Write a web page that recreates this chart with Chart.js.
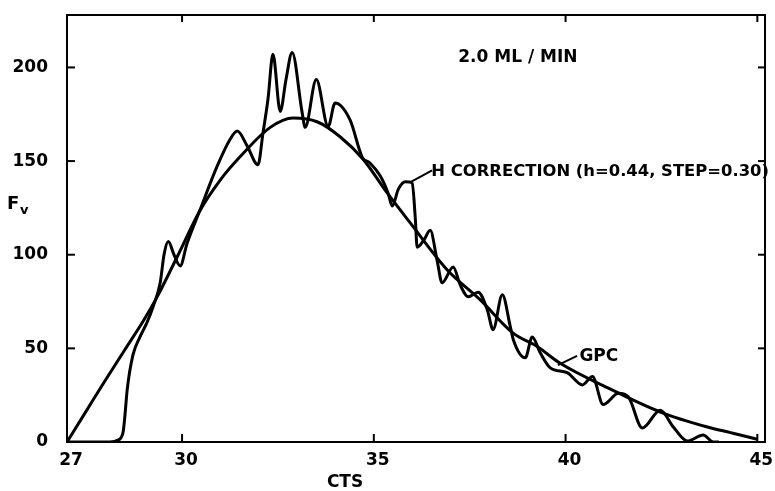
<!DOCTYPE html>
<html>
<head>
<meta charset="utf-8">
<script src="https://cdn.jsdelivr.net/npm/chart.js@4.4.1/dist/chart.umd.min.js"></script>
<style>
  html, body { margin: 0; padding: 0; background: #fff; }
  #wrap { width: 775px; height: 491px; position: relative; }
</style>
</head>
<body>
<div id="wrap"><canvas id="myChart"></canvas></div>
<script>
// axis ticks
const xTicks = [27, 30, 35, 40, 45];
const yTicks = [0, 50, 100, 150, 200];

// GPC curve (smooth)
const gpcX = [27, 27.5, 28, 28.5, 29, 29.35, 29.9, 30.45, 31.0, 31.5, 32.3, 32.9, 33.52, 34.12, 34.72, 35.35, 35.95, 36.91, 37.77, 38.64, 39.26, 39.86, 41.09, 42.47, 43.7, 44.3, 45.0];
const gpcY = [0, 16.5, 33, 49, 65, 77.5, 100, 123, 140, 152, 168, 173, 171, 163, 151, 133, 117, 92, 76, 58, 51, 42, 29, 16, 8, 5, 1.5];

// H correction curve (h=0.44, step=0.30)
const hcX = [27, 28.12, 28.33, 28.46, 28.51, 28.57, 28.72, 28.9, 29.09, 29.24, 29.43, 29.53, 29.64, 29.79, 29.95, 30.13, 30.47, 30.91, 31.25, 31.44, 31.7, 31.98, 32.11, 32.24, 32.37, 32.56, 32.71, 32.87, 33.13, 33.21, 33.5, 33.81, 33.99, 34.38, 34.7, 34.9, 35.17, 35.37, 35.48, 35.64, 35.82, 36.0, 36.08, 36.13, 36.31, 36.47, 36.65, 36.78, 37.07, 37.25, 37.46, 37.72, 37.96, 38.11, 38.35, 38.56, 38.64, 38.95, 39.13, 39.34, 39.6, 40.04, 40.44, 40.7, 40.98, 41.38, 41.64, 42.0, 42.47, 42.81, 43.18, 43.59, 43.85, 44.0];
const hcY = [0, 0, 1, 5, 14, 28, 46.5, 56, 64, 72, 85, 100, 107, 100, 94, 106, 124, 147, 161.5, 166, 158, 148, 165, 183, 207, 176.5, 193.5, 208, 176, 168, 193.5, 168.5, 181, 172, 152, 149, 142, 133, 126, 135, 139, 138.5, 120, 104, 108, 113, 97, 85, 93.5, 84, 77.5, 80, 70.5, 60, 78.6, 61.5, 54.5, 45, 56, 47.6, 39.6, 37, 30.5, 35, 20, 26, 24, 7.5, 17, 8, 0.5, 3.7, 0, 0];

const FONT = '"DejaVu Sans", sans-serif';

function toPoints(xs, ys) {
    return xs.map((v, i) => ({ x: v, y: ys[i] }));
}

// frame, inward ticks and labels written on the plot
const decor = {
    id: 'decor',
    afterDraw(chart) {
        const ctx = chart.ctx;
        const a = chart.chartArea;
        const x = chart.scales.x, y = chart.scales.y;
        const line = (x1, y1, x2, y2) => {
            ctx.beginPath(); ctx.moveTo(x1, y1); ctx.lineTo(x2, y2); ctx.stroke();
        };
        ctx.save();
        ctx.strokeStyle = '#000';
        ctx.lineWidth = 2;
        ctx.strokeRect(a.left, a.top, a.right - a.left, a.bottom - a.top);

        xTicks.slice(1).forEach(v => {
            const px = x.getPixelForValue(v);
            line(px, a.bottom, px, a.bottom - 8);
            line(px, a.top, px, a.top + 7);
        });
        yTicks.slice(1).forEach(v => {
            const py = y.getPixelForValue(v);
            line(a.left, py, a.left + 8, py);
            line(a.right, py, a.right - 7, py);
        });

        // leader lines
        line(x.getPixelForValue(35.98), y.getPixelForValue(139), x.getPixelForValue(36.52), y.getPixelForValue(145));
        line(x.getPixelForValue(39.8), y.getPixelForValue(41), x.getPixelForValue(40.3), y.getPixelForValue(46));

        ctx.fillStyle = '#000';
        ctx.textBaseline = 'middle';
        ctx.textAlign = 'left';
        ctx.font = 'bold 17px ' + FONT;
        ctx.fillText('2.0 ML / MIN', x.getPixelForValue(37.2), y.getPixelForValue(205));
        ctx.font = 'bold 16.4px ' + FONT;
        ctx.fillText('H CORRECTION (h=0.44, STEP=0.30)', x.getPixelForValue(36.5), y.getPixelForValue(144.5));
        ctx.font = 'bold 17px ' + FONT;
        ctx.fillText('GPC', x.getPixelForValue(40.36), y.getPixelForValue(45.5));

        // axis titles
        ctx.textAlign = 'center';
        ctx.fillText('CTS', x.getPixelForValue(34.25), a.bottom + 41);
        ctx.textAlign = 'left';
        ctx.font = 'bold 18px ' + FONT;
        const fy = y.getPixelForValue(127);
        ctx.fillText('F', 7, fy);
        ctx.font = 'bold 13px ' + FONT;
        ctx.fillText('v', 20, fy + 6);
        ctx.restore();
    }
};

const myChart = new Chart(document.getElementById('myChart'), {
    type: 'line',
    data: {
        datasets: [{
            label: 'GPC',
            data: toPoints(gpcX, gpcY),
            borderColor: '#000',
            borderWidth: 3,
            pointRadius: 0,
            cubicInterpolationMode: 'monotone',
            fill: false
        }, {
            label: 'H CORRECTION',
            data: toPoints(hcX, hcY),
            borderColor: '#000',
            borderWidth: 3,
            pointRadius: 0,
            cubicInterpolationMode: 'monotone',
            fill: false
        }]
    },
    options: {
        responsive: true,
        maintainAspectRatio: false,
        animation: false,
        layout: { padding: { left: 0, right: 10, top: 15, bottom: 0 } },
        plugins: {
            legend: { display: false },
            tooltip: { enabled: false }
        },
        scales: {
            x: {
                type: 'linear',
                min: 27,
                max: 45.2,
                afterBuildTicks: s => { s.ticks = xTicks.map(v => ({ value: v })); },
                afterFit: s => {
                    s.height = 49;
                    s.paddingLeft = 0; s.paddingRight = 0;
                    s.paddingTop = 0; s.paddingBottom = 0;
                },
                grid: { display: false, drawTicks: false },
                border: { display: false },
                ticks: {
                    color: '#000',
                    padding: 8,
                    labelOffset: 4,
                    maxRotation: 0,
                    font: { family: FONT, size: 17, weight: 'bold' }
                }
            },
            y: {
                type: 'linear',
                min: 0,
                max: 228,
                afterBuildTicks: s => { s.ticks = yTicks.map(v => ({ value: v })); },
                afterFit: s => {
                    s.width = 67;
                    s.paddingLeft = 0; s.paddingRight = 0;
                    s.paddingTop = 0; s.paddingBottom = 0;
                },
                grid: { display: false, drawTicks: false },
                border: { display: false },
                ticks: {
                    color: '#000',
                    padding: 19,
                    font: { family: FONT, size: 17, weight: 'bold' }
                }
            }
        }
    },
    plugins: [decor]
});
</script>
</body>
</html>
